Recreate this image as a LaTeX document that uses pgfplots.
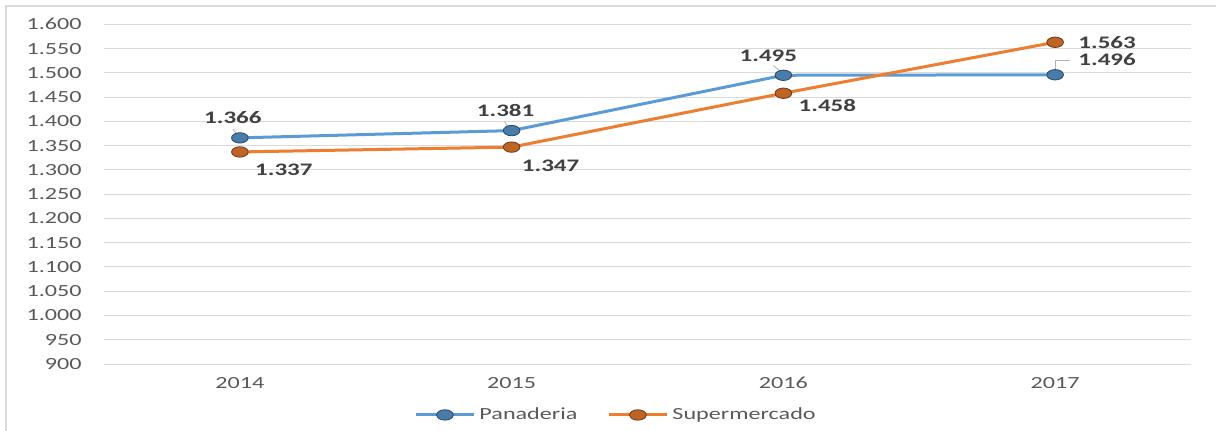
\documentclass[border=0pt]{standalone}
\usepackage{fontspec}
\setmainfont{Carlito}[FakeStretch=1.42]
\usepackage{pgfplots}
\pgfplotsset{compat=1.18}
\definecolor{pblue}{HTML}{5B9BD5}
\definecolor{porange}{HTML}{ED7D31}
\definecolor{gridc}{HTML}{D9D9D9}
\definecolor{tickc}{HTML}{595959}
\definecolor{labc}{HTML}{404040}
\begin{document}
\begin{tikzpicture}
\begin{axis}[
  at={(0pt,0pt)}, anchor=south west,
  scale only axis, width=543.5pt, height=169.85pt,
  xmin=-0.5, xmax=3.5, ymin=900, ymax=1600,
  xtick={0,1,2,3}, xticklabels={2014,2015,2016,2017},
  ytick distance=50,
  axis line style={draw=none},
  major tick length=0pt,
  ymajorgrids, grid style={gridc, line width=0.5pt},
  /pgf/number format/assume math mode=true,
  /pgf/number format/1000 sep={.},
  ticklabel style={font=\fontsize{8.5}{10}\selectfont, text=tickc, inner sep=0pt},
  yticklabel style={anchor=east, xshift=-11pt},
  xticklabel style={anchor=base, yshift=-12.25pt},
  legend columns=2,
  legend style={at={(0.472,-0.150)}, anchor=center, draw=none, fill=none,
    font=\fontsize{8.5}{10}\selectfont, text=tickc,
    /tikz/every even column/.append style={column sep=13pt}},
  legend image code/.code={\draw[mark repeat=2,mark phase=2,#1] plot coordinates {(0pt,0pt) (14.5pt,0pt) (29pt,0pt)};},
]
\addplot[pblue, line width=1.5pt, mark=*, mark size=2.6pt, mark options={solid, xscale=1.6, line width=0.4pt, fill=pblue!80!black, draw=pblue!45!black}]
  coordinates {(0,1366) (1,1381) (2,1495) (3,1496)};
\addlegendentry{Panaderia}
\addplot[porange, line width=1.5pt, mark=*, mark size=2.6pt, mark options={solid, xscale=1.6, line width=0.4pt, fill=porange!80!black, draw=porange!45!black}]
  coordinates {(0,1337) (1,1347) (2,1458) (3,1563)};
\addlegendentry{Supermercado}
\tikzset{lab/.style={inner sep=0pt, text=labc, font=\fontsize{8.8}{10}\selectfont\bfseries}}
\node[lab] at ([xshift=-3.5pt,yshift=10pt]axis cs:0,1366) {1.366};
\node[lab] at ([xshift=-3pt,yshift=10pt]axis cs:1,1381) {1.381};
\node[lab] at ([xshift=-7.5pt,yshift=9.5pt]axis cs:2,1495) {1.495};
\node[lab] at ([xshift=26pt,yshift=7.5pt]axis cs:3,1496) {1.496};
\node[lab] at ([xshift=22pt,yshift=-9pt]axis cs:0,1337) {1.337};
\node[lab] at ([xshift=19.5pt,yshift=-9.5pt]axis cs:1,1347) {1.347};
\node[lab] at ([xshift=22pt,yshift=-6pt]axis cs:2,1458) {1.458};
\node[lab] at ([xshift=26pt,yshift=0pt]axis cs:3,1563) {1.563};
\draw[gray!60, line width=0.4pt] ([yshift=2.6pt]axis cs:3,1496) -- ++(0pt,4.8pt) -- ++(7.5pt,0pt);
\draw[gray!60, line width=0.4pt] ([xshift=-2pt,yshift=2.4pt]axis cs:0,1366) -- ++(-1.5pt,2pt);
\draw[gray!60, line width=0.4pt] ([xshift=-2pt,yshift=2.4pt]axis cs:1,1381) -- ++(-1.5pt,2pt);
\draw[gray!60, line width=0.4pt] ([xshift=-2pt,yshift=2.4pt]axis cs:2,1495) -- ++(-3pt,2.5pt);
\end{axis}
\pgfresetboundingbox
\useasboundingbox (-52pt,-33pt) rectangle (556pt,182pt);
\draw[gridc, line width=0.9pt] (-49pt,-40pt) -- (-49pt,179pt) -- (570pt,179pt);
\end{tikzpicture}
\end{document}
